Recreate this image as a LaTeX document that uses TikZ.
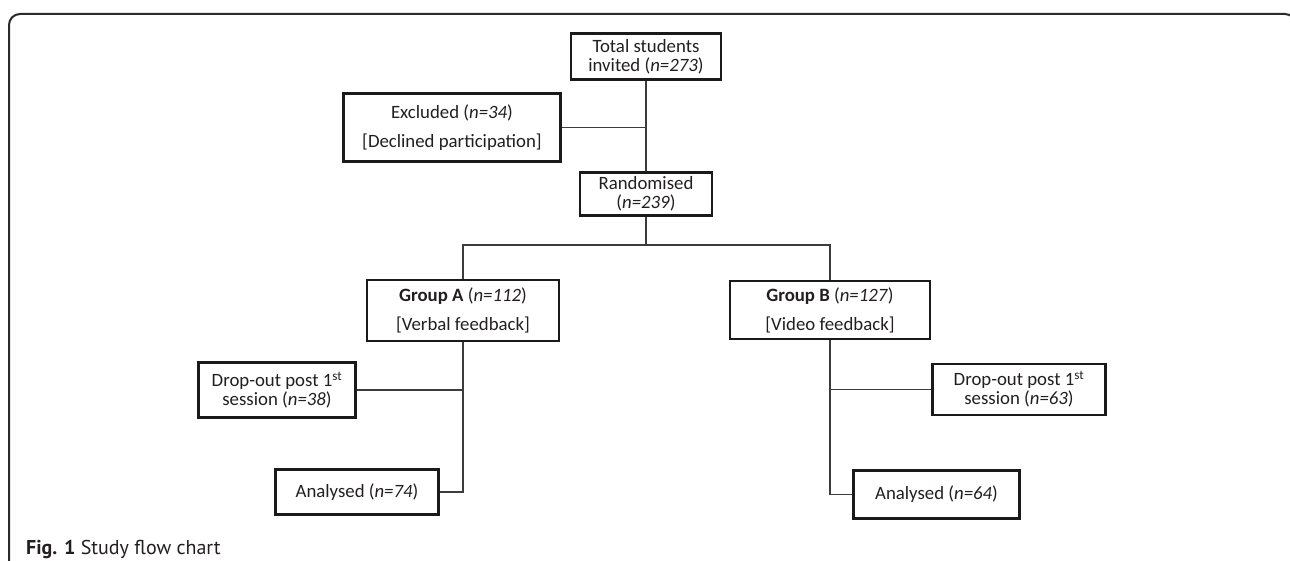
\documentclass[tikz,border=0pt]{standalone}
\usepackage{fontspec}
\setmainfont{Carlito}
\newfontfamily\capfont{PT Sans}
\definecolor{boxc}{HTML}{1A1A1A}
\definecolor{linec}{HTML}{3C3C3C}
\definecolor{txt}{HTML}{231F20}
\definecolor{framec}{HTML}{2B2B2B}
\tikzset{
  fbox/.style={draw=boxc, line width=2.6pt, fill=white, inner sep=0pt, align=center,
    font=\fontsize{18.8}{19}\selectfont, text=txt},
  conn/.style={draw=linec, line width=1.3pt},
  capstyle/.style={anchor=base west, inner sep=0pt, text=txt, font=\capfont\fontsize{20}{22}\selectfont}
}
\begin{document}
\begin{tikzpicture}[x=1pt,y=-1pt]
\useasboundingbox (0,0) rectangle (1290,561);
\clip (0,0) rectangle (1290,561);
\fill[white] (0,0) rectangle (1290,561);
\draw[framec, line width=2pt, rounded corners=11pt] (9,620) -- (9,14) -- (1296,14) -- (1296,620);

\node[fbox, minimum width=150pt, minimum height=46pt] (total) at (646,56.5) {Total students\\invited (\textit{n=273})};
\node[fbox, minimum width=217pt, minimum height=68pt] (excl) at (452,127.5) {Excluded (\textit{n=34})\\[10pt][Declined participation]};
\node[fbox, minimum width=132pt, minimum height=43pt] (rand) at (646,194) {Randomised\\(\textit{n=239})};
\node[fbox, minimum width=192pt, minimum height=61pt] (grpA) at (463,310.5) {\textbf{Group A} (\textit{n=112})\\[10pt][Verbal feedback]};
\node[fbox, minimum width=200pt, minimum height=58pt] (grpB) at (830,310) {\textbf{Group B} (\textit{n=127})\\[10pt][Video feedback]};
\node[fbox, minimum width=157pt, minimum height=55pt] (dropA) at (277,390) {Drop-out post 1\textsuperscript{st}\\session (\textit{n=38})};
\node[fbox, minimum width=163pt, minimum height=45pt] (anA) at (357,492) {Analysed (\textit{n=74})};
\node[fbox, minimum width=173pt, minimum height=51pt] (dropB) at (1019,389.5) {Drop-out post 1\textsuperscript{st}\\session (\textit{n=63})};
\node[fbox, minimum width=166pt, minimum height=48pt] (anB) at (936.5,494.5) {Analysed (\textit{n=64})};

\coordinate (br) at (646,245);
\draw[conn] (total.south) -- (rand.north);
\draw[conn] (excl.east) -- (excl.east -| total.south);
\draw[conn] (rand.south) -- (br);
\draw[conn] (grpA.north) |- (br) -| (grpB.north);
\draw[conn] (grpA.south) |- (anA.east);
\draw[conn] (dropA.east) -- (dropA.east -| grpA.south);
\draw[conn] (grpB.south) |- (anB.west);
\draw[conn] (dropB.west) -- (dropB.west -| grpB.south);

\node[capstyle] (cap) at (26,554) {\textbf{Fig. 1} Study flow chart};
\end{tikzpicture}
\end{document}
